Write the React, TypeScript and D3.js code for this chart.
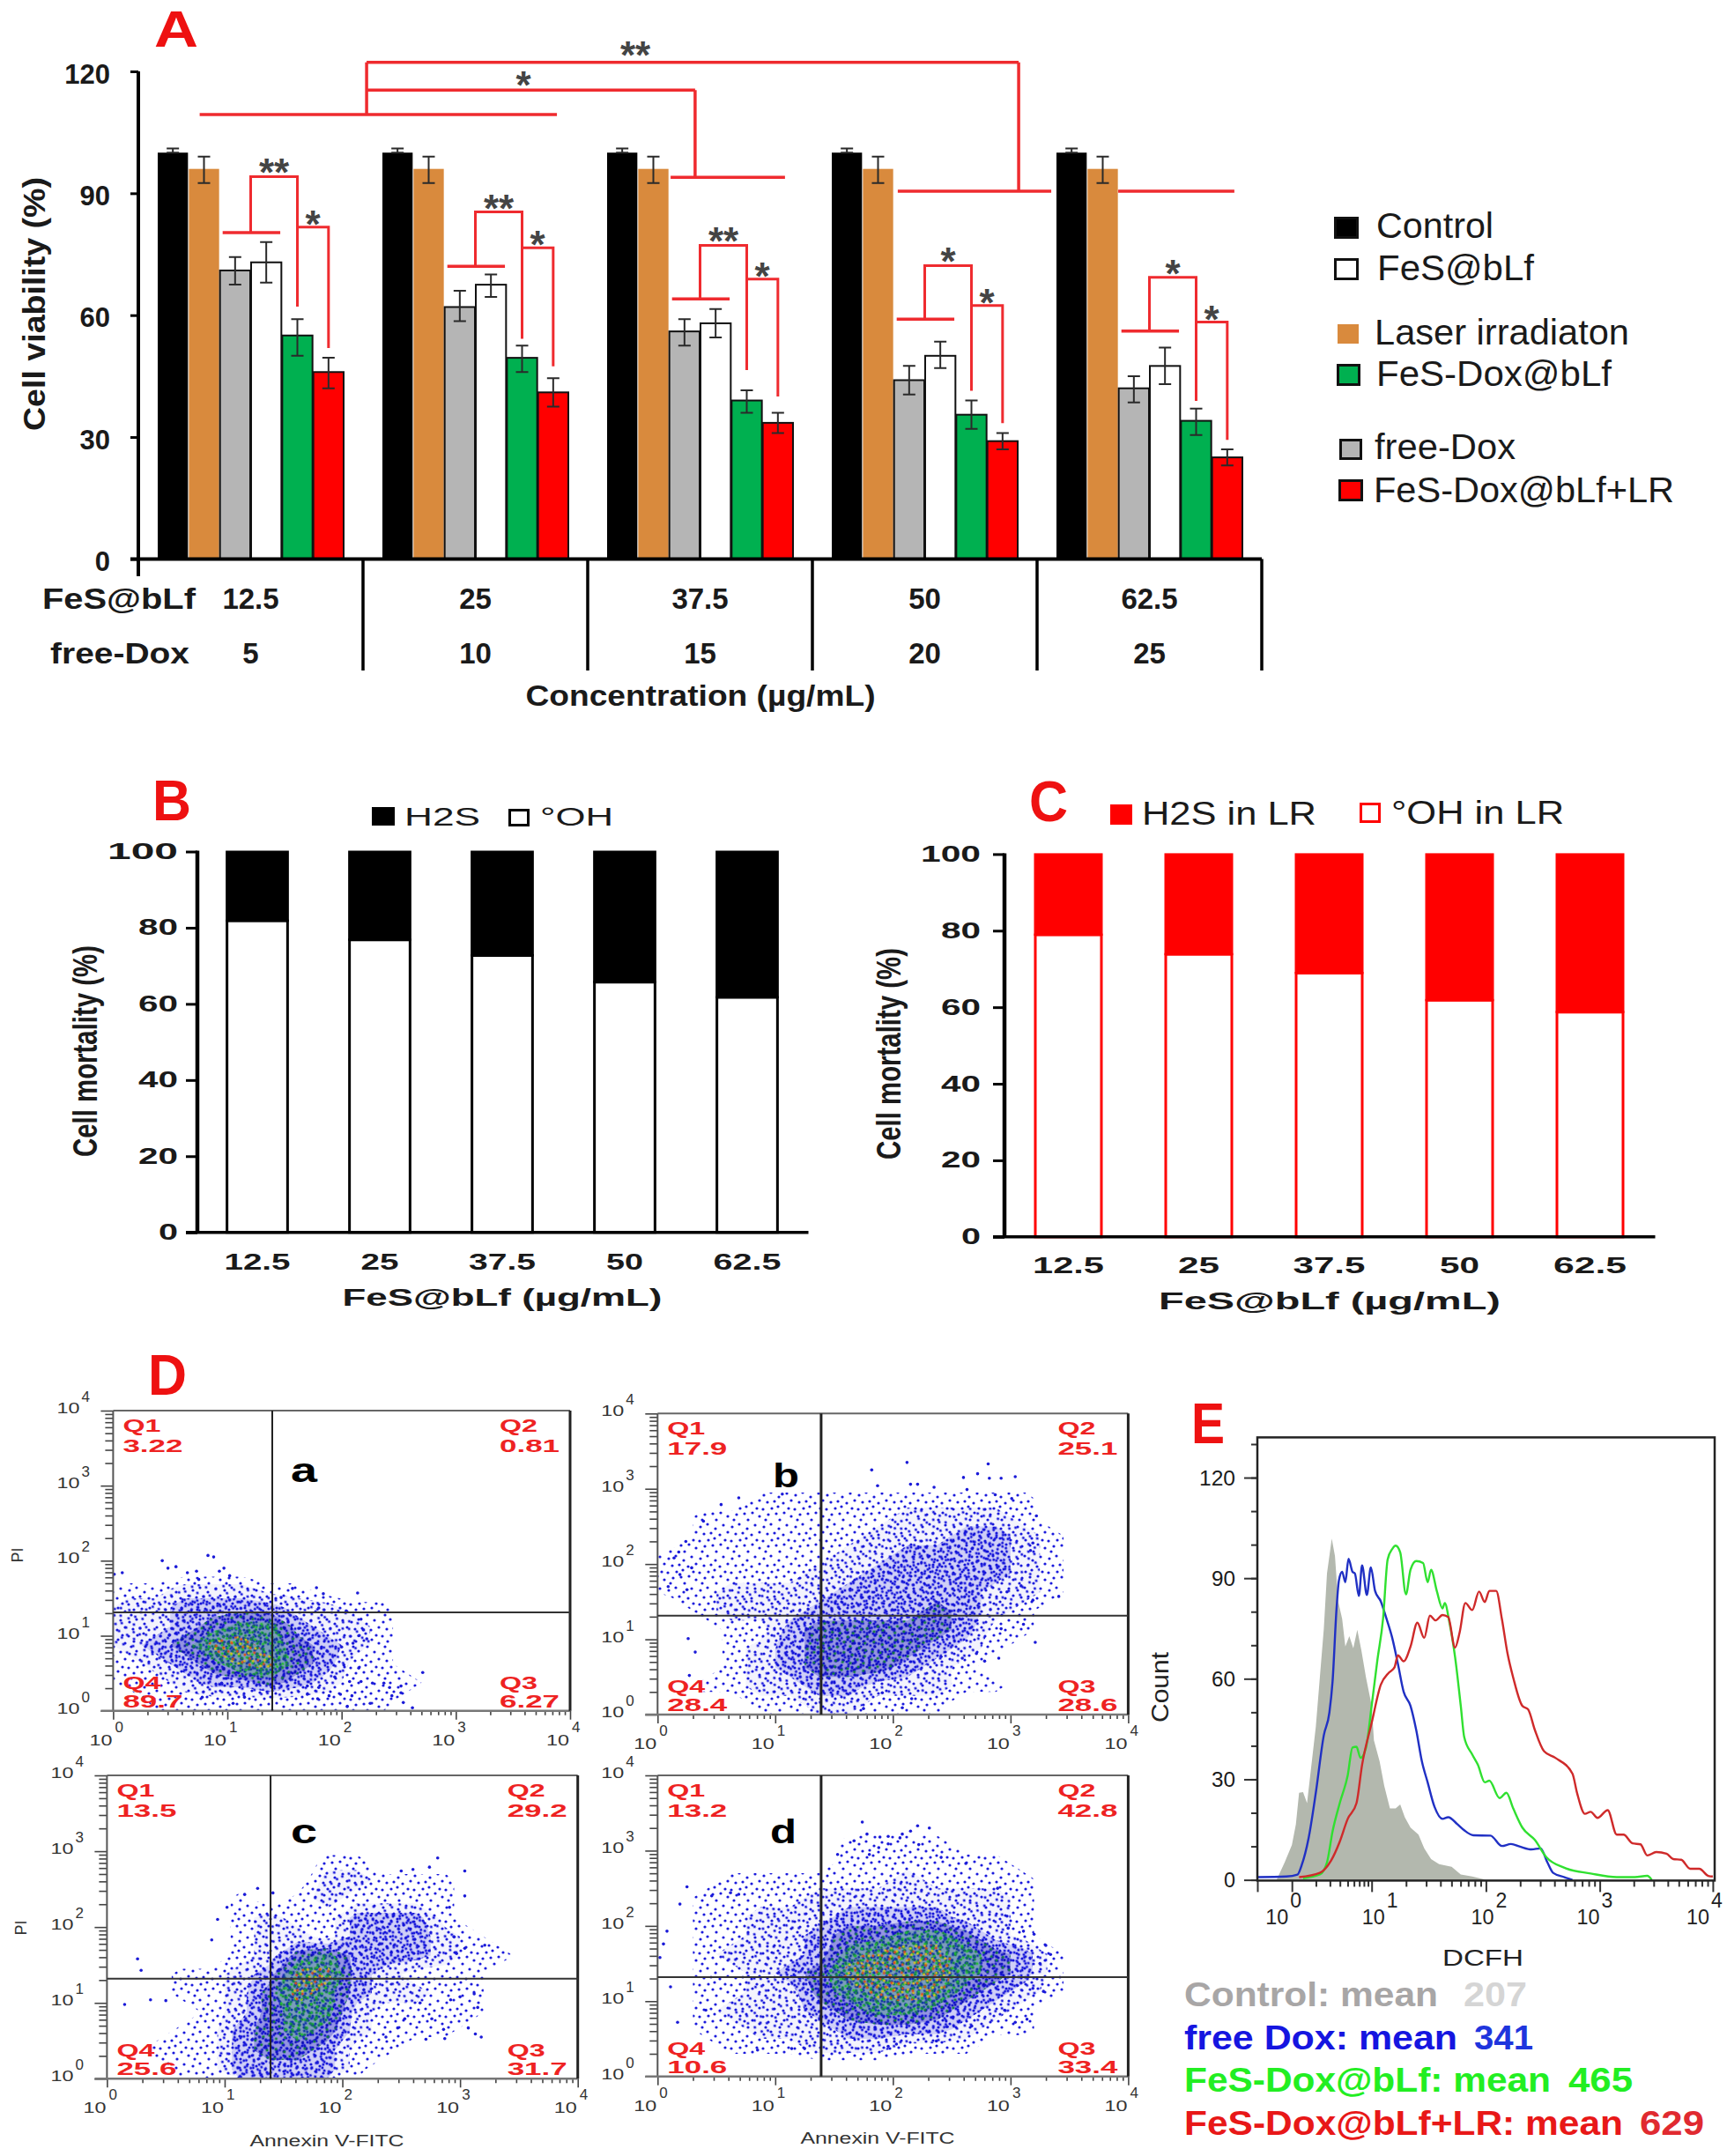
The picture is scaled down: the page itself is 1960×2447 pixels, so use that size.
import React, { useEffect, useRef } from "react";
import * as d3 from "d3";

const FONT = "'Liberation Sans', Arial, sans-serif";

// ---- panel A ----
const concentrations = ["12.5", "25", "37.5", "50", "62.5"];
const doxDoses = ["5", "10", "15", "20", "25"];

const control = [100, 100, 100, 100, 100];
const controlHi = [101, 101, 101, 101, 101];
const controlLo = [100, 100, 100, 100, 100];
const laser = [96, 96, 96, 96, 96];
const laserHi = [99, 99, 99, 99, 99];
const laserLo = [92.5, 92.5, 92.5, 92.5, 92.5];
const freeDox = [71, 62, 56, 44, 42];
const freeDoxHi = [74.3, 66, 59, 47.5, 45];
const freeDoxLo = [67.5, 58.5, 52.5, 40.5, 38.5];
const fesBlf = [73, 67.5, 58, 50, 47.5];
const fesBlfHi = [78, 70, 61.5, 53.5, 52];
const fesBlfLo = [68, 64.5, 54.5, 47, 43];
const fesDox = [55, 49.5, 39, 35.5, 34];
const fesDoxHi = [59, 52.5, 41.5, 39, 37];
const fesDoxLo = [50, 46, 36, 32, 30.5];
const fesDoxLr = [46, 41, 33.5, 29, 25];
const fesDoxLrHi = [49.5, 44.5, 36, 31, 27];
const fesDoxLrLo = [42, 37.5, 31, 27, 23];

// significance brackets of each group, in % viability
const bracketBase = [80.3, 72, 64, 59, 56.1];
const bracketTop = [94.1, 85.4, 77.2, 72.2, 69.3];
const bracketGreenEnd = [62.1, 54.2, 46.5, 41.4, 38.9];
const bracketSecond = [81.7, 76.6, 68.9, 62.4, 58.3];
const bracketRedEnd = [51.9, 47.4, 40, 33.4, 29.3];
const bracketStars = ["**", "**", "**", "*", "*"];

// long brackets over the groups: x in group units, y in % viability
const longBrackets = [
  [0.273, 109.4, 1.863, 109.4],
  [1.016, 109.4, 1.016, 122.2],
  [1.016, 122.2, 3.918, 122.2],
  [1.016, 115.4, 2.478, 115.4],
  [2.478, 115.4, 2.478, 93.9],
  [2.369, 93.9, 2.878, 93.9],
  [3.918, 122.2, 3.918, 90.5],
  [3.38, 90.5, 4.063, 90.5],
  [4.361, 90.5, 4.878, 90.5],
];

// ---- panels B and C ----
const oxidePartB = [81.8, 76.8, 72.7, 65.7, 61.7];
const oxidePartC = [78.9, 73.8, 68.9, 61.8, 58.7];

// ---- panel D: density, 4 cells per decade, top row = 10^4 ----
const densityA = [
  "0000000000000000", "0000000000000000", "0000000000000000", "0000000000000000",
  "0000000000000000", "0000000000000000", "0000000000000000", "0000000000000000",
  "0000000000000000", "1122211000000000", "2233332211000000", "2234553221000000",
  "2346654321000000", "1234664311000000", "1123343211100000", "0111111111000000",
];
const densityB = [
  "0000000000000000", "0000000000000000", "0000000000000000", "0000000000000000",
  "0001111111111000", "0111111122221000", "0111111222332100", "1111112233332100",
  "1111122333332100", "1122223333322100", "0122233334321000", "0011344444311000",
  "0012344443210000", "0012344432100000", "0112233222110000", "0001122111000000",
];
const densityC = [
  "0000000000000000", "0000000000000000", "0000000000000000", "0000000000000000",
  "0000000110000000", "0000000221110000", "0000101211110000", "0000121133310000",
  "0000122133321000", "0000124533321100", "0011236632111000", "0011246532211000",
  "0001245521111000", "0011345421110000", "0111344311000000", "0011333310000000",
];
const densityD = [
  "0000000000000000", "0000000000000000", "0000000000000000", "0000001111000000",
  "0000001111110000", "0011111121111000", "0111122222221000", "0112223333221000",
  "0112234455421000", "0122235666543100", "0112346666543100", "0112245666432100",
  "0122234554321000", "0112223333211000", "0011122211100000", "0000000000000000",
];

// single events outside the clouds, [log10 Annexin, log10 PI]
const eventsA = [
  [0.43, 2.0], [0.55, 1.92], [0.83, 2.07], [0.88, 2.05], [0.97, 1.9], [0.93, 1.86], [0.73, 1.86], [0.65, 1.84],
  [0.48, 1.9], [0.75, 1.75], [0.01, 1.82], [0.08, 1.84], [1.02, 1.8], [1.47, 1.51], [1.57, 1.63], [1.78, 1.64],
  [1.84, 1.56], [2.14, 1.57], [2.04, 1.33], [1.8, 1.37], [2.17, 1.22], [2.19, 1.08], [2.22, 0.96], [2.71, 0.51],
  [2.52, 0.33], [2.42, 0.31], [2.37, 0.37], [2.27, 0.37], [2.52, 0.24], [2.44, 0.2], [2.54, 0.11], [2.62, 0.04],
  [2.17, 0.39], [2.09, 0.2], [1.99, 0.22], [1.89, 0.2], [1.8, 0.31], [1.7, 0.33], [1.7, 0.22], [1.79, 0.16],
  [2.05, 0.06], [2.25, 0.1], [1.94, 0.45], [2.07, 0.39], [2.15, 0.57], [2.02, 0.61], [1.15, 0.18], [1.05, 0.1],
  [0.78, 0.18], [0.95, 0.37], [2.0, 0.85], [2.1, 0.9], [2.15, 1.0],
];
const eventsB = [
  [2.12, 3.35], [2.81, 3.33], [1.82, 3.25], [2.72, 3.2], [2.6, 3.15], [3.04, 3.16], [2.82, 3.14], [2.92, 3.14],
  [1.87, 3.04], [2.15, 3.06], [2.21, 3.06], [1.06, 2.93], [0.69, 2.88], [0.54, 2.79], [2.87, 2.92], [3.01, 2.87],
  [2.63, 2.99], [2.35, 3.02], [0.39, 2.57], [0.24, 2.3], [0.18, 2.16], [0.14, 2.08], [0.29, 1.95], [0.19, 1.86],
  [0.09, 1.7], [0.25, 1.66], [3.22, 2.64], [3.19, 2.28], [3.17, 2.18], [3.09, 1.71], [3.41, 1.57], [3.19, 1.52],
  [2.97, 1.63], [3.21, 0.96], [3.11, 1.2], [2.92, 1.14], [2.78, 0.71], [2.9, 0.75], [2.59, 0.75], [2.71, 0.81],
  [2.41, 0.77], [2.16, 0.21], [2.08, 0.09], [1.75, 0.08], [1.91, 0.29], [0.26, 1.01], [0.32, 0.83], [0.27, 0.52],
];
const eventsC = [
  [2.81, 2.91], [3.04, 2.74], [2.74, 2.79], [2.6, 2.76], [2.5, 2.74], [1.28, 2.51], [1.17, 2.43], [1.41, 2.45],
  [1.02, 2.26], [0.94, 2.1], [0.89, 1.83], [0.26, 1.58], [0.29, 1.43], [0.15, 0.98], [0.37, 1.04], [0.5, 1.03],
  [3.21, 1.76], [2.95, 1.87], [2.97, 1.65], [3.04, 1.72], [3.04, 2.41], [2.91, 2.26], [3.15, 0.94], [3.12, 1.12],
  [3.07, 0.67], [3.18, 0.55], [3.13, 0.59], [2.87, 0.53], [2.71, 0.52], [2.37, 0.55], [2.47, 0.67], [2.53, 0.79],
  [2.86, 0.65], [2.76, 0.79], [2.66, 1.0], [2.92, 1.04], [3.0, 1.08],
];
const eventsD = [
  [1.74, 3.38], [2.21, 3.33], [2.31, 3.3], [2.15, 3.26], [1.78, 3.22], [2.08, 3.22], [1.67, 3.13], [1.89, 3.18],
  [1.96, 3.19], [2.06, 3.17], [2.22, 3.08], [1.96, 3.09], [1.88, 3.04], [1.8, 2.95], [1.53, 2.95], [2.62, 2.83],
  [2.41, 2.91], [0.25, 2.52], [0.46, 2.4], [0.62, 2.44], [0.69, 2.42], [0.19, 2.29], [0.08, 1.93], [0.05, 1.76],
  [0.02, 1.58], [2.89, 2.5], [2.97, 2.13], [2.98, 1.97], [3.11, 1.93], [3.2, 1.89], [3.3, 1.74], [3.34, 1.62],
  [3.25, 1.5], [3.28, 1.13], [3.19, 1.17], [3.14, 0.76], [3.04, 0.72], [2.95, 0.88], [2.67, 0.67], [2.37, 0.47],
  [2.46, 0.66], [1.96, 0.4], [2.03, 0.43], [0.17, 0.72], [0.11, 1.19], [0.41, 0.88], [0.85, 0.35], [1.14, 0.37],
  [1.25, 0.37],
];

const quadrantsA = ["3.22", "0.81", "6.27", "89.7"];
const quadrantsB = ["17.9", "25.1", "28.6", "28.4"];
const quadrantsC = ["13.5", "29.2", "31.7", "25.6"];
const quadrantsD = ["13.2", "42.8", "33.4", "10.6"];

// ---- panel E: [log10 DCFH, count] ----
const histControl = [
  [-0.19, 0], [-0.09, 5.2], [0, 10.4], [0.05, 16.6], [0.09, 26], [0.14, 26.2], [0.19, 22.9], [0.23, 31.2], [0.3, 45.7],
  [0.35, 60.3], [0.4, 74.8], [0.44, 91.4], [0.5, 101.8], [0.54, 96.6], [0.58, 83.1], [0.63, 77.9], [0.67, 69.6],
  [0.72, 72.7], [0.77, 69.1], [0.82, 74.6], [0.87, 68.6], [0.93, 60.3], [1, 52], [1.02, 41.6], [1.07, 35.3], [1.11, 28.1],
  [1.16, 21.3], [1.21, 21.3], [1.25, 22.5], [1.29, 18.7], [1.34, 15.6], [1.41, 13.5], [1.46, 9.4], [1.52, 6.2],
  [1.59, 4.7], [1.7, 3.9], [1.78, 1.6], [1.88, 1], [2, 0],
];
const histFreeDox = [
  [-0.43, 0.8], [-0.07, 1], [0.07, 1.6], [0.12, 4.2], [0.21, 12.5], [0.3, 26], [0.4, 43.1], [0.47, 49.9], [0.51, 59.2],
  [0.56, 81], [0.59, 89.4], [0.63, 91.9], [0.67, 88.8], [0.71, 95.8], [0.76, 91.9], [0.79, 91.4], [0.84, 84.7], [0.88, 93.8],
  [0.94, 85], [0.99, 93.2], [1.03, 86.2], [1.08, 83.1], [1.13, 77.9], [1.18, 72.2], [1.23, 64.4], [1.28, 56.1], [1.34, 51.9],
  [1.39, 44.7], [1.44, 35.3], [1.49, 29.1], [1.55, 21.8], [1.62, 18.2], [1.67, 18.7], [1.75, 16.6], [1.81, 14.8], [1.89, 13.3],
  [2.04, 13.2], [2.14, 10.1], [2.22, 10.7], [2.3, 9.9], [2.4, 9.1], [2.48, 9.4], [2.54, 5.2], [2.59, 2.1], [2.69, 0.8], [2.76, 0],
];
const histFesDox = [
  [0.14, 0.5], [0.35, 1.6], [0.44, 5.2], [0.51, 14.5], [0.6, 22.9], [0.7, 31.2], [0.76, 39.5], [0.81, 39.7], [0.86, 36.4],
  [0.93, 39.5], [1, 51.9], [1.05, 65.5], [1.1, 77.9], [1.14, 95.6], [1.18, 98.7], [1.21, 99.7], [1.25, 97.7], [1.3, 85.2],
  [1.34, 92.5], [1.39, 95.1], [1.45, 94.5], [1.49, 88.8], [1.52, 92.5], [1.57, 86.2], [1.62, 81], [1.64, 82.6], [1.68, 76.9],
  [1.73, 66.5], [1.78, 51.9], [1.81, 42.6], [1.88, 37.4], [1.93, 34.3], [1.99, 29.1], [2.03, 29.6], [2.12, 24.4], [2.18, 26],
  [2.24, 21.3], [2.32, 15.6], [2.43, 11.9], [2.53, 6.8], [2.69, 3.6], [2.92, 1.9], [3.15, 0.8], [3.31, 0.8], [3.42, 1.2], [3.46, 0],
];
const histFesDoxLr = [
  [0.09, 0.8], [0.35, 2.1], [0.49, 5.7], [0.6, 11.4], [0.7, 18.2], [0.81, 22.9], [0.88, 34.3], [1, 46.8], [1.08, 58.2],
  [1.15, 61.8], [1.2, 63.4], [1.23, 67], [1.28, 65.2], [1.34, 69.6], [1.4, 76.7], [1.46, 72.2], [1.51, 78.8], [1.56, 77.4],
  [1.62, 79], [1.67, 78.4], [1.73, 69.3], [1.77, 73.8], [1.82, 82.6], [1.88, 80.5], [1.94, 86], [1.99, 82.9], [2.03, 86.2],
  [2.09, 86.2], [2.14, 77.9], [2.19, 67.5], [2.24, 60.3], [2.32, 51.9], [2.37, 50.9], [2.43, 44.7], [2.51, 38.4], [2.61, 36.4],
  [2.76, 31.7], [2.8, 26], [2.87, 19.7], [2.92, 20.3], [2.98, 18.5], [3.07, 20.8], [3.15, 13.5], [3.21, 13.5], [3.29, 10.9],
  [3.36, 10.6], [3.42, 7.3], [3.5, 8.3], [3.59, 7.8], [3.65, 6.2], [3.72, 6], [3.8, 3.3], [3.88, 3.3], [3.96, 1.2], [4, 1],
];

// one tile of the speckle used for the flow cytometry clouds
const speckleTile = [
  [3, 5], [11, 2], [20, 7], [29, 3], [34, 11], [7, 13], [15, 12], [25, 14], [2, 21],
  [12, 20], [19, 18], [31, 20], [8, 27], [17, 26], [26, 25], [34, 29], [5, 33], [21, 33],
];
const speckleLayers = [
  { level: 0.7, color: "#1a1adc", rot: 0, wash: 0 },
  { level: 1.5, color: "#1a1adc", rot: 37, wash: 0.05 },
  { level: 2.5, color: "#1212d8", rot: 71, wash: 0.16 },
  { level: 2.5, color: "#1212d8", rot: 101, wash: 0 },
  { level: 3.5, color: "#0c0cb4", rot: 131, wash: 0.3 },
  { level: 3.5, color: "#14803c", rot: 161, wash: 0 },
  { level: 4.5, color: "#22c030", rot: 17, wash: 0.22 },
  { level: 4.5, color: "#0e7a50", rot: 47, wash: 0 },
  { level: 5.5, color: "#d8c020", rot: 23, wash: 0 },
  { level: 5.5, color: "#d8501c", rot: 83, wash: 0 },
];

type TextOpts = { size: number; bold?: boolean; fill?: string; anchor?: string; len?: number; rotate?: boolean };

function label(g: any, x: number, y: number, s: string, o: TextOpts) {
  const t = g.append("text")
    .attr("text-anchor", o.anchor || "start")
    .attr("font-size", o.size)
    .attr("font-weight", o.bold ? "bold" : "normal")
    .attr("fill", o.fill || "#1a1a1a")
    .text(s);
  if (o.len) t.attr("textLength", o.len).attr("lengthAdjust", "spacingAndGlyphs");
  if (o.rotate) t.attr("transform", `translate(${x},${y}) rotate(-90)`);
  else t.attr("x", x).attr("y", y);
  return t;
}

function styleAxis(ax: any, size: number, bold: boolean) {
  ax.attr("font-family", null).attr("font-size", null);
  ax.select(".domain").remove();
  ax.selectAll("text").attr("font-size", size).attr("font-weight", bold ? "bold" : "normal").attr("fill", "#1a1a1a");
}

function drawPanelA(svg: any) {
  const series = [
    { name: "Control", fill: "#000000", stroke: "none", vals: control, hi: controlHi, lo: controlLo },
    { name: "Laser irradiaton", fill: "#d98a3d", stroke: "none", vals: laser, hi: laserHi, lo: laserLo },
    { name: "free-Dox", fill: "#b5b5b5", stroke: "#111", vals: freeDox, hi: freeDoxHi, lo: freeDoxLo },
    { name: "FeS@bLf", fill: "#ffffff", stroke: "#111", vals: fesBlf, hi: fesBlfHi, lo: fesBlfLo },
    { name: "FeS-Dox@bLf", fill: "#00b050", stroke: "#111", vals: fesDox, hi: fesDoxHi, lo: fesDoxLo },
    { name: "FeS-Dox@bLf+LR", fill: "#ff0000", stroke: "#111", vals: fesDoxLr, hi: fesDoxLrHi, lo: fesDoxLrLo },
  ];
  const g = svg.append("g");
  const y = d3.scaleLinear().domain([0, 120]).range([634.4, 81]);
  const x = d3.scaleBand().domain(concentrations).range([157, 1432]);
  const inner = d3.scaleBand().domain(series.map((s) => s.name)).range([21.5, 233.5]);
  const groupX = d3.scaleLinear().domain([0, 5]).range([157, 1432]);
  const bw = inner.bandwidth();

  series.forEach((s) => {
    const sg = g.append("g");
    concentrations.forEach((c, i) => {
      const left = (x(c) as number) + (inner(s.name) as number);
      sg.append("rect")
        .attr("x", left + 0.5).attr("y", y(s.vals[i]))
        .attr("width", bw - 1).attr("height", y(0) - y(s.vals[i]))
        .attr("fill", s.fill).attr("stroke", s.stroke).attr("stroke-width", 2);
      const mid = left + bw / 2;
      const err = d3.path();
      err.moveTo(mid, y(s.hi[i])); err.lineTo(mid, y(s.lo[i]));
      err.moveTo(mid - 7, y(s.hi[i])); err.lineTo(mid + 7, y(s.hi[i]));
      err.moveTo(mid - 7, y(s.lo[i])); err.lineTo(mid + 7, y(s.lo[i]));
      sg.append("path").attr("d", err.toString()).attr("fill", "none").attr("stroke", "#2a2a2a").attr("stroke-width", 2);
    });
  });

  // axes
  const ax = g.append("g").attr("transform", "translate(157,0)")
    .call(d3.axisLeft(y).tickValues([0, 30, 60, 90, 120]).tickSize(9).tickPadding(23));
  styleAxis(ax, 31, true);
  ax.selectAll("text").attr("dy", 13);
  ax.selectAll("line").attr("stroke", "#000").attr("stroke-width", 3);
  g.append("line").attr("x1", 157).attr("x2", 157).attr("y1", y(120)).attr("y2", 654).attr("stroke", "#000").attr("stroke-width", 4);
  g.append("line").attr("x1", 148).attr("x2", 1432).attr("y1", y(0)).attr("y2", y(0)).attr("stroke", "#000").attr("stroke-width", 4);
  concentrations.forEach((c, i) => {
    const right = (x(c) as number) + x.step();
    g.append("line").attr("x1", right).attr("x2", right).attr("y1", y(0)).attr("y2", 761).attr("stroke", "#000").attr("stroke-width", 3.5);
    label(g, (x(c) as number) + x.step() / 2, 691, c, { size: 33, bold: true, anchor: "middle" });
    label(g, (x(c) as number) + x.step() / 2, 753, doxDoses[i], { size: 33, bold: true, anchor: "middle" });
  });
  label(g, 135, 691, "FeS@bLf", { size: 33, bold: true, anchor: "middle", len: 174 });
  label(g, 136, 753, "free-Dox", { size: 33, bold: true, anchor: "middle", len: 158 });
  label(g, 795, 801, "Concentration (µg/mL)", { size: 33, bold: true, anchor: "middle", len: 397 });
  label(g, 51, 345, "Cell viability (%)", { size: 35, bold: true, anchor: "middle", len: 288, rotate: true });
  label(g, 200, 53, "A", { size: 58, bold: true, fill: "#ee1111", anchor: "middle", len: 50 });

  // significance brackets
  const red = "#ef2b2f";
  const stars = (px: number, py: number, s: string) =>
    label(g, px, py + 22, s, { size: 44, bold: true, fill: "#444", anchor: "middle" });
  const longPath = d3.path();
  longBrackets.forEach(([x1, y1, x2, y2]) => { longPath.moveTo(groupX(x1), y(y1)); longPath.lineTo(groupX(x2), y(y2)); });
  g.append("path").attr("d", longPath.toString()).attr("fill", "none").attr("stroke", red).attr("stroke-width", 3.5);
  stars(721, 56, "**");
  stars(594, 90, "*");

  concentrations.forEach((c, i) => {
    const at = (name: string, f: number) => (x(c) as number) + (inner(name) as number) + f * bw;
    const base = d3.path();
    base.moveTo(at("free-Dox", 0.1), y(bracketBase[i]));
    base.lineTo(at("FeS@bLf", 0.95), y(bracketBase[i]));
    g.append("path").attr("d", base.toString()).attr("fill", "none").attr("stroke", red).attr("stroke-width", 3.5);
    const p = d3.path();
    const vx = at("FeS@bLf", 0);
    const gx = at("FeS-Dox@bLf", 0.5);
    const rx = at("FeS-Dox@bLf+LR", 0.5);
    p.moveTo(vx, y(bracketBase[i])); p.lineTo(vx, y(bracketTop[i]));
    p.lineTo(gx, y(bracketTop[i])); p.lineTo(gx, y(bracketGreenEnd[i]));
    p.moveTo(gx, y(bracketSecond[i])); p.lineTo(rx, y(bracketSecond[i])); p.lineTo(rx, y(bracketRedEnd[i]));
    g.append("path").attr("d", p.toString()).attr("fill", "none").attr("stroke", red).attr("stroke-width", 3);
    stars((vx + gx) / 2, y(bracketTop[i]) - 11, bracketStars[i]);
    stars((gx + rx) / 2, y(bracketSecond[i]) - 10, "*");
  });

  // legend
  const legendBoxes = [
    { name: "Control", x: 1514, y: 246, w: 28, h: 25, tx: 1562, ty: 270, len: 133 },
    { name: "FeS@bLf", x: 1514, y: 293, w: 28, h: 25, tx: 1563, ty: 318, len: 178 },
    { name: "Laser irradiaton", x: 1518, y: 368, w: 24, h: 22, tx: 1560, ty: 391, len: 289 },
    { name: "FeS-Dox@bLf", x: 1517, y: 413, w: 27, h: 25, tx: 1562, ty: 438, len: 267 },
    { name: "free-Dox", x: 1520, y: 498, w: 26, h: 24, tx: 1560, ty: 521, len: 160 },
    { name: "FeS-Dox@bLf+LR", x: 1519, y: 544, w: 28, h: 25, tx: 1559, ty: 570, len: 341 },
  ];
  legendBoxes.forEach((b) => {
    const s = series.find((d) => d.name === b.name)!;
    g.append("rect").attr("x", b.x + 1.5).attr("y", b.y + 1.5).attr("width", b.w - 3).attr("height", b.h - 3)
      .attr("fill", s.fill).attr("stroke", s.fill === "#d98a3d" ? "#d98a3d" : "#111").attr("stroke-width", 3);
    label(g, b.tx, b.ty, b.name, { size: 40, len: b.len });
  });
}

function drawStacked(svg: any, cfg: any) {
  const g = svg.append("g");
  const y = d3.scaleLinear().domain([0, 100]).range([cfg.y0, cfg.y100]);
  const x = d3.scaleBand().domain(concentrations).range(cfg.xr).paddingInner(cfg.gap).paddingOuter(cfg.gap / 2);
  concentrations.forEach((c, i) => {
    const left = x(c) as number;
    g.append("rect").attr("x", left + 1).attr("y", y(100)).attr("width", x.bandwidth() - 2).attr("height", y(cfg.vals[i]) - y(100))
      .attr("fill", cfg.color).attr("stroke", cfg.color).attr("stroke-width", 2);
    g.append("rect").attr("x", left + 1.5).attr("y", y(cfg.vals[i])).attr("width", x.bandwidth() - 3).attr("height", y(0) - y(cfg.vals[i]))
      .attr("fill", "#fff").attr("stroke", cfg.color).attr("stroke-width", 3);
    label(g, left + x.bandwidth() / 2, cfg.xLabelY, c, { size: 25, bold: true, anchor: "middle", len: cfg.xLens[i] });
  });
  const ax = g.append("g").attr("transform", `translate(${cfg.xr[0] + cfg.axisDx},0)`)
    .call(d3.axisLeft(y).tickValues([0, 20, 40, 60, 80, 100]).tickSize(13).tickPadding(cfg.pad));
  styleAxis(ax, 25, true);
  ax.selectAll("text").attr("dy", 8).attr("textLength", (d: number) => (d === 100 ? cfg.len100 : d === 0 ? 22 : 45)).attr("lengthAdjust", "spacingAndGlyphs");
  ax.selectAll("line").attr("stroke", "#000").attr("stroke-width", 3);
  const ax0 = cfg.xr[0] + cfg.axisDx;
  g.append("line").attr("x1", ax0).attr("x2", ax0).attr("y1", y(100) - 1).attr("y2", y(0)).attr("stroke", "#000").attr("stroke-width", 4.5);
  g.append("line").attr("x1", ax0 - 13).attr("x2", cfg.xr[1]).attr("y1", y(0)).attr("y2", y(0)).attr("stroke", "#000").attr("stroke-width", 3.5);

  label(g, cfg.titleX, cfg.xLabelY + 41, "FeS@bLf (µg/mL)", { size: 28, bold: true, anchor: "middle", len: cfg.titleLen });
  label(g, cfg.yTitleX, cfg.yTitleMid, "Cell mortality (%)", { size: 38, bold: true, anchor: "middle", len: 240, rotate: true });
  label(g, cfg.letterX, cfg.letterY, cfg.letter, { size: 64, bold: true, fill: "#ee1111", anchor: "middle", len: cfg.letterLen });

  cfg.legend.forEach((l: any) => {
    g.append("rect").attr("x", l.x + 1.5).attr("y", l.y + 1.5).attr("width", l.w - 3).attr("height", l.h - 3)
      .attr("fill", l.filled ? cfg.color : "#fff").attr("stroke", cfg.color).attr("stroke-width", 3);
    label(g, l.tx, l.ty, l.text, { size: l.size, len: l.len });
  });
}

function drawFlow(svg: any, cfg: any) {
  const g = svg.append("g");
  const { left, right, top, bottom } = cfg;
  const x = d3.scaleLog().domain([1, 1e4]).range([left, right]);
  const y = d3.scaleLog().domain([1, 1e4]).range([bottom, top]);
  const majors = [1, 10, 100, 1000, 10000];
  const minors = x.ticks().filter((t) => !majors.includes(t));

  // density cloud: contours of the grid, each level filled with speckle
  const grid = cfg.density.flatMap((row: string) => row.split("").map(Number));
  const project = d3.geoTransform({
    point(px: number, py: number) {
      (this as any).stream.point(x(10 ** (px / 4)), y(10 ** (4 - py / 4)));
    },
  });
  const path = d3.geoPath(project);
  speckleLayers.forEach((l, i) => {
    const [shape] = d3.contours().size([16, 16]).thresholds([l.level])(grid);
    if (!shape || !shape.coordinates.length) return;
    if (l.wash) g.append("path").attr("d", path(shape as any)).attr("fill", l.color).attr("opacity", l.wash);
    g.append("path").attr("d", path(shape as any)).attr("fill", `url(#speckle${i})`);
  });
  g.selectAll(null).data(cfg.events).join("circle")
    .attr("cx", (d: number[]) => x(10 ** d[0])).attr("cy", (d: number[]) => y(10 ** d[1]))
    .attr("r", 1.8).attr("fill", "#1a1ad8");

  // ticks
  const xMin = g.append("g").attr("transform", `translate(0,${bottom})`).call(d3.axisBottom(x).tickValues(minors).tickSize(5).tickFormat(() => ""));
  const xMaj = g.append("g").attr("transform", `translate(0,${bottom})`).call(d3.axisBottom(x).tickValues(majors).tickSize(10).tickFormat(() => ""));
  const yMin = g.append("g").attr("transform", `translate(${left},0)`).call(d3.axisLeft(y).tickValues(minors).tickSize(9).tickFormat(() => ""));
  const yMaj = g.append("g").attr("transform", `translate(${left},0)`).call(d3.axisLeft(y).tickValues(majors).tickSize(14).tickFormat(() => ""));
  [xMin, xMaj, yMin, yMaj].forEach((a) => {
    a.select(".domain").remove();
    a.selectAll("line").attr("stroke", "#444").attr("stroke-width", 1.6);
  });
  majors.forEach((m, i) => {
    label(g, x(m) - 1, bottom + 39, "10", { size: 17, fill: "#333", anchor: "end", len: 26 });
    label(g, x(m) + 2, bottom + 24, String(i), { size: 17, fill: "#333" });
    label(g, left - 38, y(m) + 3, "10", { size: 17, fill: "#333", anchor: "end", len: 26 });
    label(g, left - 36, y(m) - 10, String(i), { size: 17, fill: "#333" });
  });

  // frame and gates
  const frame = (x1: number, y1: number, x2: number, y2: number, c: string, w: number) =>
    g.append("line").attr("x1", x1).attr("y1", y1).attr("x2", x2).attr("y2", y2).attr("stroke", c).attr("stroke-width", w);
  frame(left, top, right, top, "#666", 2);
  frame(left, top, left, bottom, "#555", 2);
  frame(left - 14, bottom, right, bottom, "#777", 2.5);
  frame(right, top, right, bottom, "#222", 3);
  frame(x(10 ** cfg.gateX), top, x(10 ** cfg.gateX), bottom, "#222", cfg.gateW);
  frame(left, y(10 ** cfg.gateY), right, y(10 ** cfg.gateY), "#333", 2);

  // quadrant labels
  const red = "#ee2222";
  const q = (tx: number, ty: number, name: string, val: string, up: boolean) => {
    label(g, tx, ty, name, { size: 21, bold: true, fill: red, len: 43 });
    label(g, tx, ty + (up ? 23 : 21), val, { size: 21, bold: true, fill: red, len: 68 });
  };
  q(left + 11, top + 24, "Q1", cfg.quadrants[0], true);
  q(right - 80, top + 24, "Q2", cfg.quadrants[1], true);
  q(right - 80, bottom - 25, "Q3", cfg.quadrants[2], false);
  q(left + 11, bottom - 25, "Q4", cfg.quadrants[3], false);
  label(g, cfg.tagX, cfg.tagY, cfg.tag, { size: 38, bold: true, fill: "#000", len: 30 });
  if (cfg.showPI) label(g, cfg.piX, cfg.piY, "PI", { size: 18, fill: "#333", anchor: "middle", rotate: true });
  if (cfg.xTitleY) label(g, cfg.xTitleX, cfg.xTitleY, "Annexin V-FITC", { size: 18, fill: "#333", anchor: "middle", len: 175 });
}

function drawHistogram(svg: any) {
  const g = svg.append("g");
  const left = 1427, right = 1946, top = 1631.4, bottom = 2134.4;
  // the instrument's axis is compressed below 10^1
  const x = d3.scaleLinear().domain([-0.43, 0, 1, 2, 3, 4, 4.016]).range([left, 1466.2, 1556.7, 1686.4, 1815.6, 1943.9, right]);
  const y = d3.scaleLinear().domain([0, 132]).range([2133.6, top]);

  const area = d3.area<number[]>().x((d) => x(d[0])).y0(y(0)).y1((d) => y(d[1]));
  g.append("path").attr("d", area(histControl as any)).attr("fill", "#b3b8ae");
  const line = d3.line<number[]>().x((d) => x(d[0])).y((d) => y(d[1])).curve(d3.curveMonotoneX);
  [
    { data: histFreeDox, color: "#2030c4" },
    { data: histFesDox, color: "#30e030" },
    { data: histFesDoxLr, color: "#cf2a2a" },
  ].forEach((s) => {
    g.append("path").attr("d", line(s.data as any)).attr("fill", "none").attr("stroke", s.color).attr("stroke-width", 2.4);
  });

  const logTicks = [0, 1, 2, 3, 4];
  const minor = logTicks.slice(0, 4).flatMap((k) => [2, 3, 4, 5, 6, 7, 8, 9].map((m) => k + Math.log10(m)));
  const xMin = g.append("g").attr("transform", `translate(0,${bottom})`).call(d3.axisBottom(x).tickValues(minor).tickSize(7).tickFormat(() => ""));
  const xMaj = g.append("g").attr("transform", `translate(0,${bottom})`).call(d3.axisBottom(x).tickValues([-0.43, ...logTicks]).tickSize(13).tickFormat(() => ""));
  const yMin = g.append("g").attr("transform", `translate(${left},0)`).call(d3.axisLeft(y).tickValues(d3.range(0, 131, 10)).tickSize(7).tickFormat(() => ""));
  const yMaj = g.append("g").attr("transform", `translate(${left},0)`).call(d3.axisLeft(y).tickValues([0, 30, 60, 90, 120]).tickSize(15).tickPadding(10));
  styleAxis(yMaj, 23, false);
  yMaj.selectAll("text").attr("dy", 8).attr("textLength", (d: number) => (d === 120 ? 41 : d === 0 ? 13 : 27)).attr("lengthAdjust", "spacingAndGlyphs");
  [xMin, xMaj, yMin].forEach((a) => a.select(".domain").remove());
  [xMin, xMaj, yMin, yMaj].forEach((a) => a.selectAll("line").attr("stroke", "#333").attr("stroke-width", 2));

  g.append("rect").attr("x", left).attr("y", top).attr("width", right - left).attr("height", bottom - top)
    .attr("fill", "none").attr("stroke", "#222").attr("stroke-width", 2.5);

  const labelShift = [-4, 15, 9, 0, -4];
  logTicks.forEach((k, i) => {
    label(g, x(k) + labelShift[i], 2184, "10", { size: 23, fill: "#222", anchor: "end", len: 26 });
    label(g, x(k) + labelShift[i] + 2, 2165, String(k), { size: 23, fill: "#222" });
  });
  label(g, 1326, 1915, "Count", { size: 28, fill: "#222", anchor: "middle", len: 80, rotate: true });
  label(g, 1683, 2231, "DCFH", { size: 25, fill: "#222", anchor: "middle", len: 92 });
  label(g, 1371, 1638, "E", { size: 64, bold: true, fill: "#ee1111", anchor: "middle", len: 38 });

  const means = [
    { text: "Control: mean", len: 288, val: "207", vx: 1661, vlen: 72, y: 2277, fill: "#a8a6a6", vfill: "#d5d5d5" },
    { text: "free Dox: mean", len: 310, val: "341", vx: 1673, vlen: 67, y: 2326, fill: "#1515e0", vfill: "#1f35dd" },
    { text: "FeS-Dox@bLf: mean", len: 416, val: "465", vx: 1780, vlen: 73, y: 2374, fill: "#22ee22", vfill: "#22ee22" },
    { text: "FeS-Dox@bLf+LR: mean", len: 498, val: "629", vx: 1861, vlen: 73, y: 2423, fill: "#e81818", vfill: "#e02a30" },
  ];
  means.forEach((m) => {
    label(g, 1344, m.y, m.text, { size: 39, bold: true, fill: m.fill, len: m.len });
    label(g, m.vx, m.y, m.val, { size: 39, bold: true, fill: m.vfill, len: m.vlen });
  });
}

export default function App() {
  const ref = useRef<SVGSVGElement>(null);

  useEffect(() => {
    const svg = d3.select(ref.current);
    svg.selectAll("*").remove();
    svg.attr("font-family", FONT);

    const defs = svg.append("defs");
    speckleLayers.forEach((l, i) => {
      const p = defs.append("pattern").attr("id", `speckle${i}`)
        .attr("patternUnits", "userSpaceOnUse").attr("width", 36).attr("height", 36)
        .attr("patternTransform", `rotate(${l.rot})`);
      speckleTile.forEach(([cx, cy]) => p.append("circle").attr("cx", cx).attr("cy", cy).attr("r", 1.6).attr("fill", l.color));
    });

    drawPanelA(svg);
    drawStacked(svg, {
      letter: "B", letterX: 195, letterY: 931, letterLen: 44, color: "#000", vals: oxidePartB,
      y0: 1398.7, y100: 966.5, xr: [222.5, 917.5], gap: 0.484, axisDx: 1.5, pad: 9, len100: 80,
      xLabelY: 1441, xLens: [75, 43, 76, 42, 77], titleX: 570, titleLen: 363, yTitleX: 110, yTitleMid: 1193,
      legend: [
        { x: 422, y: 916, w: 26, h: 21, filled: true, tx: 459, ty: 937, text: "H2S", size: 30, len: 86 },
        { x: 577, y: 918, w: 24, h: 20, filled: false, tx: 613, ty: 937, text: "°OH", size: 30, len: 83 },
      ],
    });
    drawStacked(svg, {
      letter: "C", letterX: 1190, letterY: 932, letterLen: 44, color: "#ff0000", vals: oxidePartC,
      y0: 1403.8, y100: 969.4, xr: [1138.5, 1878.5], gap: 0.473, axisDx: 1.5, pad: 14, len100: 68,
      xLabelY: 1445, xLens: [81, 47, 82, 45, 83], titleX: 1509, titleLen: 388, yTitleX: 1022, yTitleMid: 1196,
      legend: [
        { x: 1260, y: 913, w: 25, h: 23, filled: true, tx: 1296, ty: 936, text: "H2S in LR", size: 37, len: 198 },
        { x: 1543, y: 911, w: 24, h: 23, filled: false, tx: 1579, ty: 935, text: "°OH in LR", size: 37, len: 196 },
      ],
    });

    label(svg, 190, 1583, "D", { size: 64, bold: true, fill: "#ee1111", anchor: "middle", len: 44 });
    drawFlow(svg, { density: densityA, events: eventsA, quadrants: quadrantsA, tag: "a", tagX: 330, tagY: 1682, left: 128.4, right: 647, top: 1601, bottom: 1941.7, gateX: 1.393, gateY: 1.311, gateW: 2, showPI: true, piX: 26, piY: 1765 });
    drawFlow(svg, { density: densityB, events: eventsB, quadrants: quadrantsB, tag: "b", tagX: 877, tagY: 1688, left: 746.3, right: 1280.4, top: 1604.3, bottom: 1946, gateX: 1.39, gateY: 1.315, gateW: 3 });
    drawFlow(svg, { density: densityC, events: eventsC, quadrants: quadrantsC, tag: "c", tagX: 330, tagY: 2092, left: 121.4, right: 655.7, top: 2015, bottom: 2359.3, gateX: 1.39, gateY: 1.32, gateW: 2, showPI: true, piX: 30, piY: 2188, xTitleX: 371, xTitleY: 2436 });
    drawFlow(svg, { density: densityD, events: eventsD, quadrants: quadrantsD, tag: "d", tagX: 874, tagY: 2092, left: 746.3, right: 1280.4, top: 2015, bottom: 2356.7, gateX: 1.39, gateY: 1.32, gateW: 3, xTitleX: 996, xTitleY: 2433 });

    drawHistogram(svg);
  }, []);

  return <svg ref={ref} width={1960} height={2447} style={{ position: "absolute", left: 0, top: 0, background: "#fff" }} />;
}
